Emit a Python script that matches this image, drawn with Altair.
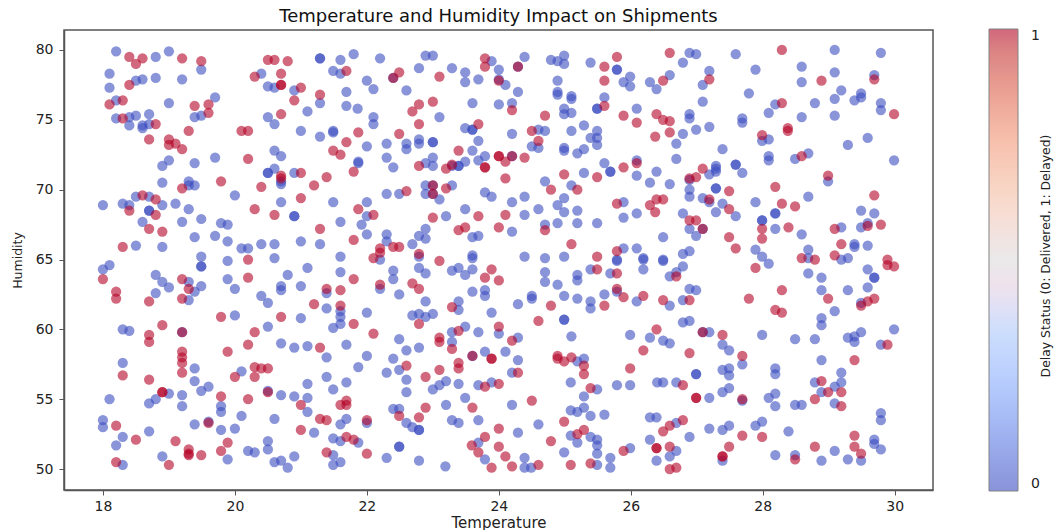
import altair as alt
import pandas as pd

# (temperature, humidity)
delivered = [
(18.20,79.9),(18.80,79.5),(19.00,79.9),(18.10,78.3),(18.60,77.9),(18.50,77.8),(18.80,78.0),(19.20,77.9),(19.49,78.6),(18.10,77.3),
(18.20,76.4),(19.00,76.2),(19.70,76.6),(18.20,75.1),(18.40,75.2),(18.50,75.3),(18.70,75.4),(18.40,74.6),(18.60,74.6),(18.60,74.4),(18.70,74.7),
(19.39,75.2),(19.49,75.3),(20.40,78.3),(20.50,77.4),(20.60,77.3),(20.90,77.1),(21.29,79.4),(21.29,79.4),(21.60,79.3),(21.80,79.7),(21.49,78.5),
(21.60,78.3),(21.69,77.0),(21.29,76.2),(21.69,76.0),(21.10,75.6),(21.86,75.8),(20.50,75.2),(20.60,74.7),(21.00,74.2),(21.29,73.8),(21.49,74.1),(21.49,74.2),
(20.60,72.8),(20.70,72.4),(20.60,71.5),(20.50,71.2),(20.50,71.2),(20.90,71.2),(20.70,70.6),(20.70,70.4),(21.87,72.0),(21.87,71.9),(19.00,72.1),(18.90,71.7),
(19.39,71.9),(19.70,72.3),(18.90,70.5),(19.30,70.6),(19.30,70.3),(19.39,70.3),(20.00,69.6),(18.00,68.9),(18.30,69.0),(18.40,68.9),(18.50,69.5),(18.70,69.5),
(18.70,68.5),(18.70,68.5),(18.90,68.9),(19.10,69.0),(19.30,68.6),(18.60,67.7),(19.20,67.7),(19.49,67.9),(19.79,67.6),(19.89,67.5),(19.39,66.6),(19.70,66.7),
(19.89,66.3),(18.50,66.0),(18.90,65.9),(20.10,65.8),(20.20,65.8),(20.40,66.1),(20.60,66.1),(21.00,66.3),(21.29,66.1),(20.70,69.1),(20.90,68.1),(20.90,68.1),
(21.49,69.1),(21.60,67.7),(19.49,65.2),(19.89,64.9),(20.60,65.1),(21.60,65.2),
(22.20,79.4),(22.89,79.6),(23.00,79.6),(22.79,78.7),(23.29,78.7),(23.49,78.4),(23.49,77.7),(23.69,77.9),(22.00,77.8),(22.10,77.2),(22.40,78.0),(22.60,77.1),
(23.89,79.2),(24.00,78.6),(24.00,77.9),(24.10,77.5),(24.29,77.0),(24.29,78.8),(24.39,79.5),(24.79,79.3),(24.89,79.2),(24.99,79.6),(24.99,79.0),(25.39,79.1),
(25.79,78.6),(25.79,78.6),(25.99,78.1),(25.89,77.7),(25.99,77.4),(26.29,77.7),(26.39,77.2),(24.89,77.8),(24.89,77.0),(24.89,76.8),(25.10,76.7),(25.10,76.5),
(25.60,76.6),(25.49,75.8),(25.49,75.8),(24.99,75.8),(24.99,75.4),(25.10,75.5),(26.09,75.8),(23.60,76.2),(24.00,76.1),(24.20,76.2),(22.10,75.2),(22.10,74.7),
(23.10,75.2),(23.49,74.4),(23.60,74.3),(23.60,74.3),(23.69,73.5),(24.20,74.0),(24.60,74.3),(24.70,74.2),(25.10,74.2),(25.29,74.6),(25.49,74.2),(25.39,73.7),
(25.49,73.7),(25.49,73.2),(24.50,73.1),(24.60,73.0),(24.99,73.0),(24.99,72.8),(25.19,72.6),(25.29,72.9),(22.30,73.3),(22.00,73.1),(22.60,73.3),(22.60,72.9),
(22.79,73.6),(22.79,73.3),(23.00,73.4),(23.00,73.4),(22.30,72.3),(22.40,71.6),(23.00,72.3),(22.89,71.9),(23.00,71.7),(23.29,71.7),(23.39,71.7),(23.39,71.7),
(23.49,72.0),(23.60,72.8),(23.69,72.1),(23.79,72.4),(24.20,72.4),(26.09,72.1),(25.60,71.9),(25.69,71.3),(25.69,71.3),(25.29,71.2),(26.09,71.0),(26.39,71.3),
(26.29,70.5),(24.70,70.6),(25.10,70.3),(22.89,70.3),(23.00,70.3),(22.89,69.7),(23.00,69.7),(23.29,70.3),(22.30,69.7),(22.49,69.7),(23.10,69.3),(23.79,69.8),
(23.89,69.5),(24.20,69.1),(24.39,69.5),(24.99,69.4),(24.89,68.9),(24.60,68.6),(24.99,68.4),(25.19,68.5),(24.39,68.2),(23.49,68.6),(23.20,68.1),(22.00,69.1),
(22.00,68.1),(21.92,67.5),(22.00,66.8),(22.30,66.8),(22.30,66.3),(22.79,66.7),(22.89,67.2),(22.89,66.5),(22.69,66.1),(23.60,66.6),(23.69,66.7),(24.20,67.0),
(24.89,67.6),(24.70,67.5),(25.19,67.6),(25.49,67.6),(25.89,69.1),(25.89,68.0),(26.09,68.3),(25.89,65.8),(26.09,65.8),(22.79,65.2),(23.60,65.3),(23.60,65.1),
(24.39,65.2),(24.70,65.1),(24.99,65.2),(25.79,65.0),(26.19,65.1),(22.20,65.0),
(26.89,79.8),(26.99,79.7),(26.79,79.1),(26.59,78.2),(27.19,78.5),(27.09,77.5),(27.59,79.7),(27.89,78.6),(27.79,76.9),(27.09,76.3),(26.89,75.4),(26.89,75.1),
(27.69,75.1),(27.69,74.8),(28.09,75.5),(28.19,76.1),(28.59,78.8),(28.59,77.7),(29.09,80.0),(29.79,79.8),(29.09,78.4),(29.69,78.2),(29.19,77.1),(29.09,76.5),
(28.79,76.2),(28.59,75.2),(29.09,75.3),(29.39,76.4),(29.49,76.9),(29.49,76.6),(29.79,76.2),(29.79,75.7),(27.19,74.5),(26.99,74.3),(26.79,74.0),(26.69,73.3),
(27.39,72.9),(26.69,72.2),(27.99,73.5),(28.09,73.6),(28.09,72.4),(28.09,72.1),(28.49,72.2),(28.69,72.6),(29.29,73.2),(29.59,73.7),(29.99,72.1),(27.29,71.7),
(27.29,71.5),(27.29,71.3),(27.19,71.1),(27.59,71.8),(27.59,71.8),(27.69,71.2),(26.89,70.7),(26.89,70.0),(26.89,69.5),(26.59,70.4),(27.29,70.1),(27.29,70.1),
(27.09,69.4),(27.19,69.1),(27.39,69.0),(27.89,69.1),(27.29,68.4),(26.79,68.3),(27.59,68.1),(27.99,67.8),(27.99,67.8),(28.19,68.3),(28.19,68.3),(26.89,67.2),
(26.99,66.7),(27.09,67.2),(26.49,66.6),(28.19,67.2),(28.59,66.8),(28.69,69.5),(28.99,70.6),(29.49,68.5),(29.69,68.3),(29.59,67.6),(29.49,67.3),(29.19,67.3),
(29.39,66.1),(29.39,65.9),(29.59,66.0),(28.69,65.7),(27.89,65.7),(27.99,65.2),(26.79,65.4),(26.89,65.6),(29.29,65.1),(29.19,65.0),(26.49,65.0),(28.69,65.1),
(18.10,64.6),(18.00,64.3),(19.49,64.5),(19.49,64.5),(21.10,64.4),(21.60,64.1),(20.80,63.9),(18.80,63.9),(18.90,63.4),(19.00,63.0),(19.30,63.4),(19.49,63.1),
(19.39,62.7),(18.80,62.6),(19.30,62.1),(19.89,63.6),(20.00,62.9),(20.70,63.1),(20.70,62.8),(21.00,63.1),(20.40,62.4),(20.50,61.9),(21.39,62.6),(21.39,61.5),
(21.60,61.3),(21.60,60.9),(21.60,60.4),(21.49,60.1),(20.00,61.0),(21.00,60.8),(20.50,60.2),(18.30,60.0),(18.40,59.9),(19.20,59.8),(20.70,59.0),(20.90,58.7),
(21.10,58.8),(21.69,58.9),(21.39,58.0),(18.30,57.6),(19.39,57.2),(20.10,57.0),(21.87,57.3),(21.39,56.6),(21.10,56.1),(21.69,56.2),(21.49,55.7),(19.39,56.3),
(19.60,55.9),(19.49,55.6),(19.00,55.4),(18.80,55.0),(18.70,54.7),(19.20,55.3),(19.20,54.5),(18.10,55.0),(19.79,54.5),(19.79,54.1),(20.10,53.8),(20.50,55.6),
(20.70,55.3),(20.90,55.2),(21.10,55.1),(21.10,54.1),(20.60,53.6),(21.69,53.6),(21.60,53.2),(18.00,53.5),(18.00,53.0),(19.39,53.2),(19.60,53.4),(19.79,52.8),
(20.00,52.9),(21.20,52.6),(18.70,52.7),(18.30,52.3),(18.20,51.7),(20.50,52.0),(20.50,51.4),(20.20,51.3),(20.30,51.2),(21.49,52.2),(21.60,52.0),(21.87,51.9),
(21.49,51.0),(21.60,50.5),(21.49,50.3),(20.90,50.9),(20.70,50.6),(20.60,50.5),(20.80,50.1),(19.89,50.7),(18.90,50.9),(18.30,50.3),
(22.40,64.2),(22.40,63.6),(22.20,62.9),(22.79,64.4),(22.89,64.0),(22.49,62.5),(23.29,64.2),(23.39,64.4),(23.49,63.9),(23.60,64.3),(23.60,62.7),(23.79,62.8),
(23.79,62.4),(22.89,62.0),(23.39,62.0),(23.39,61.4),(22.69,61.0),(22.79,61.1),(22.89,60.9),(23.00,61.1),(23.89,61.2),(22.00,61.2),(24.29,61.8),(24.50,62.4),
(24.50,62.2),(24.70,64.1),(24.70,63.4),(24.89,63.2),(25.19,63.9),(25.19,63.5),(25.39,64.3),(25.69,64.0),(25.79,64.9),(26.19,65.0),(26.19,64.3),(24.99,62.4),
(25.19,62.2),(25.39,62.0),(25.39,61.5),(25.60,62.5),(25.79,62.7),(26.09,62.0),(24.99,60.7),(24.99,60.7),(23.49,60.2),(23.29,59.8),(23.69,59.8),(24.00,59.7),
(24.29,59.4),(22.49,59.3),(23.29,59.1),(25.10,59.5),(25.99,59.6),(26.29,59.4),(22.60,58.5),(22.79,58.7),(22.00,58.1),(22.40,57.9),(23.60,58.1),(23.79,58.4),
(24.10,58.4),(24.29,57.8),(22.49,57.1),(22.30,56.9),(22.60,56.4),(22.60,55.5),(23.20,56.3),(23.10,56.0),(23.00,55.7),(23.39,56.1),(23.69,56.0),(23.89,56.2),
(24.20,56.9),(25.19,57.7),(25.29,57.9),(25.09,56.2),(25.49,55.7),(25.79,56.0),(25.99,56.0),(26.40,56.2),(25.29,55.2),(23.49,55.1),(23.20,54.6),(24.20,54.6),
(22.40,54.3),(22.49,54.3),(22.00,53.3),(22.60,53.3),(22.69,53.0),(22.79,52.8),(22.79,52.8),(23.29,53.5),(23.39,53.3),(23.69,53.5),(24.29,52.6),(24.60,53.2),
(25.09,54.2),(25.19,54.1),(25.29,54.4),(25.39,53.8),(25.60,53.9),(26.29,53.7),(26.39,53.7),(25.09,52.4),(25.19,51.9),(25.39,52.3),(25.49,52.1),(25.49,51.7),
(25.49,51.1),(24.99,51.2),(22.49,51.6),(22.49,51.6),(23.69,51.9),(23.79,50.7),(24.39,50.8),(24.39,50.1),(24.49,50.1),(23.19,50.2),(22.79,50.6),(22.30,50.8),
(25.69,50.8),(25.69,50.1),(25.49,50.3),(25.99,51.5),(26.29,52.1),(26.39,50.6),
(26.49,64.9),(26.79,64.5),(26.69,64.1),(26.59,63.8),(26.89,62.9),(26.99,62.8),(26.79,62.1),(26.59,61.7),(26.89,60.6),(26.79,60.5),(27.19,59.8),(27.09,59.8),
(26.49,59.2),(26.59,59.0),(27.39,58.9),(27.49,58.5),(27.69,57.5),(27.39,57.1),(27.49,57.2),(27.49,56.7),(26.99,56.8),(26.99,56.8),(28.19,57.2),(28.19,56.8),
(26.49,56.2),(26.69,56.2),(27.39,55.5),(27.49,55.8),(27.19,55.1),(27.69,54.9),(28.19,55.4),(28.09,55.1),(28.19,54.5),(28.49,54.6),(28.59,54.6),(27.99,59.6),
(28.49,59.3),(28.79,59.3),(28.89,57.8),(28.89,60.8),(28.89,60.3),(29.09,61.3),(29.29,59.4),(29.39,59.1),(29.39,59.5),(29.49,59.8),(29.99,60.0),(29.79,58.9),
(29.19,56.9),(29.19,56.2),(28.79,56.2),(29.09,55.9),(28.89,55.5),(29.09,54.7),(29.79,54.0),(29.79,53.5),(28.89,63.7),(28.69,64.0),(28.89,62.8),(29.29,62.8),
(29.59,63.0),(29.59,64.3),(29.69,63.7),(29.69,63.7),(29.49,61.9),(28.09,64.7),(26.69,53.3),(26.89,52.3),(27.19,52.9),(27.39,52.8),(27.49,53.1),(27.89,53.1),
(27.99,53.4),(28.39,52.7),(26.69,51.3),(26.59,50.9),(27.39,50.6),(28.19,51.0),(28.49,51.0),(28.89,50.6),(29.09,51.3),(29.29,50.7),(29.49,50.6),(29.69,52.1),
(29.69,51.8),(29.79,51.4),
]

delayed = [
(18.40,79.5),(18.60,79.4),(18.50,79.0),(19.20,79.4),(19.49,79.2),(18.40,77.5),(18.30,76.4),(18.10,76.1),(19.39,76.0),(19.60,76.1),(19.60,75.5),(18.30,75.1),
(18.80,74.7),(19.30,74.2),(18.70,73.6),(19.00,73.6),(19.00,73.2),(19.10,73.3),(19.20,72.9),(20.10,74.2),(20.20,74.2),(20.50,79.3),(20.60,79.3),(20.80,79.2),
(20.30,78.1),(20.70,78.3),(20.70,77.5),(20.70,77.5),(21.00,77.3),(21.29,76.8),(20.90,76.4),(20.70,75.4),(21.69,78.5),(21.87,74.1),(21.69,73.4),(21.49,72.8),
(21.60,72.5),(20.20,72.2),(21.80,71.3),(20.70,71.0),(20.70,70.8),(21.00,71.2),(21.39,70.9),(21.20,70.3),(20.40,70.2),(19.79,70.6),(19.20,70.1),(18.60,69.6),
(18.80,69.3),(18.40,68.5),(18.80,68.2),(21.00,69.4),(20.30,68.6),(20.60,68.2),(21.87,68.6),(18.70,67.2),(18.90,67.0),(21.29,67.2),(21.80,66.4),(18.30,65.9),
(20.20,65.0),
(22.49,78.4),(22.40,78.0),(23.10,78.1),(23.79,79.4),(23.79,78.8),(24.00,77.8),(24.29,78.8),(25.60,78.8),(25.79,79.5),(25.60,77.8),(22.79,76.1),(23.00,76.3),
(22.69,75.6),(24.20,75.7),(24.70,75.3),(25.60,76.0),(25.89,75.3),(26.09,74.8),(26.39,75.4),(22.79,74.7),(22.49,74.0),(23.69,74.7),(24.50,74.2),(24.60,73.5),
(26.37,73.8),(23.39,72.8),(24.00,72.4),(24.00,72.4),(24.10,72.0),(24.39,72.3),(23.79,71.6),(23.79,71.6),(22.79,71.7),(23.20,71.5),(23.29,71.8),(24.10,70.8),
(24.20,72.4),(24.99,71.1),(25.49,70.9),(25.89,71.6),(26.09,71.9),(23.00,70.3),(23.00,69.7),(23.20,70.1),(22.60,69.9),(24.79,70.0),(25.19,70.0),(25.79,69.0),
(26.29,68.9),(26.39,69.3),(26.37,68.4),(22.10,68.2),(23.00,68.0),(23.69,68.1),(24.10,68.2),(23.39,67.1),(23.49,67.3),(24.00,67.3),(24.70,67.1),(25.10,66.1),
(22.20,65.8),(22.20,65.5),(22.40,65.9),(22.49,65.9),(22.10,65.1),(23.10,64.9),(25.49,65.2),(25.79,65.6),(22.79,65.4),
(26.59,79.8),(28.29,80.0),(26.49,77.8),(27.19,77.9),(28.89,77.8),(29.69,77.9),(28.29,76.2),(29.99,75.4),(26.49,75.0),(26.59,74.9),(26.59,74.1),(28.38,74.4),
(28.38,74.2),(27.99,73.9),(28.59,72.4),(27.09,71.5),(26.99,70.9),(26.89,70.8),(28.99,71.0),(28.19,70.2),(27.49,69.9),(29.69,69.6),(26.49,69.3),(27.19,69.3),
(28.29,69.0),(28.49,68.8),(27.49,68.6),(26.89,67.8),(26.99,67.8),(27.09,67.2),(27.99,67.2),(28.39,67.3),(29.09,67.2),(29.59,67.4),(29.79,67.5),(27.49,66.6),
(27.99,66.5),(29.19,66.1),(27.59,65.8),(29.09,65.3),(28.59,65.1),(28.79,65.0),(29.89,65.0),
(18.00,63.6),(18.20,62.7),(18.20,62.2),(18.70,62.0),(19.20,63.6),(19.30,62.9),(19.20,62.2),(20.20,63.7),(21.80,63.6),(21.39,62.9),(21.60,62.8),(21.20,61.8),
(21.60,61.7),(19.79,60.9),(20.70,60.9),(21.80,60.4),(18.90,60.3),(18.70,59.6),(18.70,59.1),(19.20,59.8),(20.30,59.8),(20.20,58.9),(21.29,58.7),(19.89,58.4),
(19.20,58.4),(19.20,58.0),(19.20,57.6),(19.20,56.9),(18.30,56.7),(18.70,56.4),(20.30,57.3),(20.40,57.2),(20.50,57.2),(20.00,56.6),(20.30,56.6),(18.90,55.5),
(18.90,55.5),(19.79,55.2),(20.20,55.0),(20.50,55.5),(21.00,54.6),(21.69,54.9),(21.60,54.6),(21.69,54.6),(21.29,53.6),(21.39,53.5),(18.20,53.1),(19.60,53.3),
(21.00,52.8),(18.50,52.1),(19.10,52.0),(19.89,51.9),(19.30,51.4),(19.30,51.1),(19.30,51.0),(19.49,51.0),(19.79,51.3),(21.69,52.3),(21.80,52.1),(21.39,51.2),
(18.20,50.5),(19.00,50.3),
(22.20,63.2),(22.69,63.3),(22.79,62.9),(23.89,64.3),(23.79,63.7),(24.00,63.5),(23.29,61.6),(22.79,60.4),(24.00,60.2),(23.39,59.9),(24.79,61.7),(24.60,60.6),
(25.49,64.3),(25.79,64.0),(25.79,62.9),(25.89,62.3),(26.19,62.4),(25.60,61.7),(22.10,59.7),(23.10,59.4),(23.10,59.1),(23.29,58.6),(24.20,59.2),(26.19,58.5),
(22.60,57.4),(23.39,57.6),(23.39,57.2),(23.60,58.1),(23.89,57.9),(23.89,57.9),(23.10,57.1),(22.89,56.6),(24.29,56.9),(24.89,58.1),(24.89,57.9),(24.99,57.7),
(25.10,58.0),(25.29,57.4),(25.29,56.8),(25.99,57.2),(23.79,55.9),(24.00,56.1),(25.39,55.8),(24.50,54.9),(22.89,54.4),(23.60,54.4),(22.49,53.8),(22.79,53.7),
(22.00,53.5),(24.00,52.9),(24.99,53.4),(23.79,52.3),(24.79,52.0),(25.19,52.5),(25.29,52.8),(23.59,51.7),(24.00,51.6),(23.69,51.2),(24.10,50.9),(22.00,51.1),
(23.89,50.1),(24.20,50.2),(24.60,50.3),(25.09,50.3),(25.39,50.4),(25.89,51.3),(26.39,51.5),(26.39,51.5),
(27.89,64.4),(26.69,63.8),(26.89,62.1),(26.49,62.1),(28.29,62.8),(27.79,62.2),(28.99,62.2),(28.19,61.4),(28.29,61.2),(29.59,62.0),(29.69,62.2),(29.49,61.7),
(29.89,64.6),(29.99,64.5),(27.39,59.6),(27.09,59.8),(26.89,58.3),(27.69,58.1),(29.39,57.8),(29.89,58.9),(26.39,60.0),(26.79,56.0),(28.89,56.3),(28.99,55.5),
(29.19,55.5),(28.79,55.0),(29.19,54.5),(26.99,55.1),(26.99,55.1),(27.69,55.0),(26.79,53.5),(26.59,53.1),(26.49,52.7),(27.69,52.4),(27.99,52.3),(27.49,51.6),
(26.59,51.6),(28.79,51.6),(29.39,52.4),(29.39,51.6),(29.49,51.1),(27.39,50.9),(27.39,50.9),(28.49,50.7),(26.59,50.0),(26.69,50.1),
]

x_ticks = [18, 20, 22, 24, 26, 28, 30]
y_ticks = [50, 55, 60, 65, 70, 75, 80]
coolwarm = ["#3b4cc0", "#6282ea", "#8db0fe", "#b7cff9", "#dddcdc", "#f5c4ac", "#f49a7b", "#dc5d4a", "#b40426"]
colorbar_title = ["Delay Status (0: Delivered, 1: Delayed)"]

rows = [{"Temperature": t, "Humidity": h, "Delay": 0} for t, h in delivered]
rows += [{"Temperature": t, "Humidity": h, "Delay": 1} for t, h in delayed]
df = pd.DataFrame(rows)

font = "DejaVu Sans"
points = (
    alt.Chart(df)
    .mark_circle(size=105, opacity=0.6)
    .encode(
        x=alt.X("Temperature:Q",
                scale=alt.Scale(domain=[17.41, 30.58], nice=False, zero=False),
                axis=alt.Axis(values=x_ticks, grid=False, title="Temperature", format="d",
                              titleFontSize=15, labelPadding=4, titlePadding=2)),
        y=alt.Y("Humidity:Q",
                scale=alt.Scale(domain=[48.5, 81.43], nice=False, zero=False),
                axis=alt.Axis(values=y_ticks, grid=False, title="Humidity", format="d",
                              titleFontSize=12.5, labelPadding=6, titlePadding=11)),
        color=alt.Color("Delay:Q",
                        scale=alt.Scale(domain=[0, 1], range=coolwarm),
                        legend=alt.Legend(
                            orient="none", legendX=925, legendY=-1, title=None,
                            values=[0, 1], format="d",
                            gradientLength=462, gradientThickness=29,
                            gradientOpacity=0.6, gradientStrokeColor="#333", gradientStrokeWidth=1,
                            labelFont=font, labelFontSize=14, labelColor="#222", labelOffset=13,
                            labelBaseline="middle")),
    )
)
cb_title = (
    alt.Chart(pd.DataFrame({"t": colorbar_title}))
    .mark_text(angle=270, font=font, fontSize=12.4, color="#222")
    .encode(text="t:N", x=alt.value(982), y=alt.value(226))
)
chart = (
    alt.layer(points, cb_title)
    .properties(
        width=869, height=460,
        title=alt.TitleParams("Temperature and Humidity Impact on Shipments",
                              font=font, fontSize=18, fontWeight="normal", color="#111", offset=3),
        autosize=alt.AutoSizeParams(type="none"),
        padding={"left": 56, "top": 22, "right": 121, "bottom": 40},
    )
    .configure_view(stroke="#555", strokeWidth=1.5)
    .configure_axis(labelFont=font, labelFontSize=14, labelColor="#222", titleFont=font,
                    titleFontSize=13, titleFontWeight="normal", titleColor="#222",
                    domainColor="#555", domainWidth=1.5, tickColor="#555", tickSize=5)
)
chart.save("out.html", embed_options={"renderer": "svg", "actions": False})
